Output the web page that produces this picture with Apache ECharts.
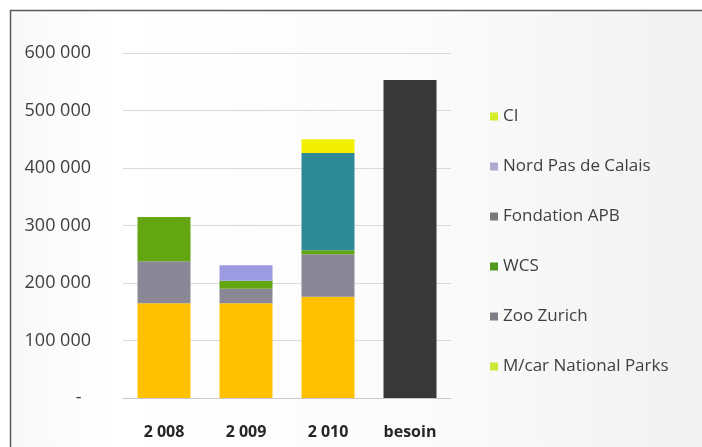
<!DOCTYPE html>
<html>
<head>
<meta charset="utf-8">
<style>
  html, body { margin: 0; padding: 0; background: #ffffff; }
  #chart { width: 702px; height: 447px; }
</style>
<script src="https://cdn.jsdelivr.net/npm/echarts@6/dist/echarts.min.js"></script>
</head>
<body>
<div id="chart"></div>
<script>
// Funding by source per year, compared with the total need ("besoin")
const categories = ['2 008', '2 009', '2 010', 'besoin'];
const mcarNationalParks = [165000, 165000, 176000, '-'];
const zooZurich = [73000, 25000, 74000, '-'];
const wcs = [77000, 14000, 7000, '-'];
const fondationAPB = ['-', '-', 169000, '-'];
const nordPasDeCalais = ['-', 27000, '-', '-'];
const ci = ['-', '-', 24000, '-'];
const besoin = ['-', '-', '-', 553000];
const yTicks = [0, 100000, 200000, 300000, 400000, 500000, 600000];

const fontFamily = '"Open Sans", "Liberation Sans", sans-serif';

// Accounting-style number: thin-space thousands, dash for zero
function fmt(v) {
  if (v === 0) return '-\u00a0\u00a0';
  return String(v).replace(/\B(?=(\d{3})+(?!\d))/g, ' ');
}

function barSeries(name, data, color) {
  return {
    name: name,
    type: 'bar',
    stack: 'total',
    data: data,
    barWidth: 53,
    itemStyle: { color: color },
    emphasis: { disabled: true }
  };
}

const chart = echarts.init(document.getElementById('chart'), null, { renderer: 'canvas' });

chart.setOption({
  animation: false,
  backgroundColor: '#ffffff',
  graphic: [
    {
      type: 'rect',
      z: -10,
      shape: { x: 10.5, y: 10.5, width: 700, height: 440 },
      style: {
        fill: new echarts.graphic.LinearGradient(0, 0, 1, 0, [
          { offset: 0, color: '#f8f8f8' },
          { offset: 0.15, color: '#ffffff' },
          { offset: 0.6, color: '#fbfbfb' },
          { offset: 1, color: '#f1f1f1' }
        ]),
        stroke: '#5a5a5a',
        lineWidth: 1.5
      },
      silent: true
    }
  ],
  grid: { left: 123, right: 251, top: 53, bottom: 49 },
  legend: {
    orient: 'vertical',
    left: 485,
    top: 103,
    itemGap: 33,
    itemWidth: 8,
    itemHeight: 8,
    icon: 'rect',
    textStyle: {
      fontFamily: fontFamily,
      fontSize: 17,
      lineHeight: 17,
      color: '#404040'
    },
    data: [
      { name: 'CI', itemStyle: { color: '#d6ef2a' } },
      { name: 'Nord Pas de Calais', itemStyle: { color: '#aeaad0' } },
      { name: 'Fondation APB', itemStyle: { color: '#7a7a7a' } },
      { name: 'WCS', itemStyle: { color: '#4f9a1c' } },
      { name: 'Zoo Zurich', itemStyle: { color: '#7e7e86' } },
      { name: 'M/car National Parks', itemStyle: { color: '#cde63a' } }
    ]
  },
  xAxis: {
    type: 'category',
    data: categories,
    axisLine: { lineStyle: { color: '#c8c8c8' } },
    axisTick: { show: false },
    axisLabel: {
      fontFamily: fontFamily,
      fontSize: 16,
      fontWeight: 'bold',
      color: '#262626',
      margin: 26
    }
  },
  yAxis: {
    type: 'value',
    min: 0,
    max: 600000,
    interval: 100000,
    axisLine: { show: false },
    axisTick: { show: false },
    splitLine: { lineStyle: { color: '#d9d9d9' } },
    axisLabel: {
      fontFamily: fontFamily,
      fontSize: 18,
      color: '#404040',
      margin: 32,
      formatter: function (v) { return yTicks.indexOf(v) >= 0 ? fmt(v) : ''; }
    }
  },
  series: [
    barSeries('M/car National Parks', mcarNationalParks, '#ffc000'),
    barSeries('Zoo Zurich', zooZurich, '#8a8796'),
    barSeries('WCS', wcs, '#63a612'),
    barSeries('Fondation APB', fondationAPB, '#2e8b96'),
    barSeries('Nord Pas de Calais', nordPasDeCalais, '#9c9ae0'),
    barSeries('CI', ci, '#f2f000'),
    barSeries('besoin', besoin, '#383838')
  ]
});
</script>
</body>
</html>
